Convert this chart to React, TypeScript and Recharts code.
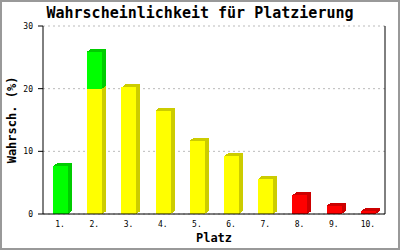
import React from "react";
import { BarChart, Bar, XAxis, YAxis, CartesianGrid } from "recharts";

// values
const places = ["1.", "2.", "3.", "4.", "5.", "6.", "7.", "8.", "9.", "10."];
const yellowVals = [0, 20, 20.2, 16.5, 11.7, 9.2, 5.6, 0, 0, 0];
const greenVals = [7.6, 5.9, 0, 0, 0, 0, 0, 0, 0, 0];
const redVals = [0, 0, 0, 0, 0, 0, 0, 3.0, 1.3, 0.4];
const yTicks = [0, 10, 20, 30];

const data = places.map((name, i) => ({
  name,
  yellow: yellowVals[i],
  green: greenVals[i],
  red: redVals[i],
}));

const mono = "'DejaVu Sans Mono', monospace";

// 3D block: front face, top face, right side
const block = (front: string, dark: string) => (props: any) => {
  const { x, y, width, height } = props;
  if (!height || height <= 0.3) return <g />;
  const dx = 4;
  const dy = 3;
  const top = `${x},${y} ${x + dx},${y - dy} ${x + width + dx},${y - dy} ${x + width},${y}`;
  const side = `${x + width},${y} ${x + width + dx},${y - dy} ${x + width + dx},${y + height - dy} ${x + width},${y + height}`;
  return (
    <g shapeRendering="crispEdges">
      <polygon points={side} fill={dark} />
      <polygon points={top} fill={dark} />
      <rect x={x} y={y} width={width} height={height} fill={front} />
    </g>
  );
};

const yLabel = (props: any) => {
  const { viewBox } = props;
  const cy = viewBox.y + viewBox.height / 2;
  return (
    <text
      x={16}
      y={cy}
      transform={`rotate(-90, 16, ${cy})`}
      textAnchor="middle"
      fontFamily={mono}
      fontWeight="bold"
      fontSize={12}
      fill="#000"
    >
      Wahrsch. (%)
    </text>
  );
};

export default function App() {
  return (
    <div
      style={{
        position: "absolute",
        left: 0,
        top: 0,
        width: 400,
        height: 250,
        background: "#fff",
      }}
    >
      <div
        style={{
          position: "absolute",
          left: 0,
          top: 4,
          width: 400,
          textAlign: "center",
          fontFamily: mono,
          fontWeight: "bold",
          fontSize: 15,
          lineHeight: "18px",
        }}
      >
        Wahrscheinlichkeit für Platzierung
      </div>
      <BarChart
        width={400}
        height={250}
        data={data}
        margin={{ top: 26, right: 15, left: 0, bottom: 0 }}
        barSize={15}
      >
        <CartesianGrid
          vertical={false}
          stroke="#bbb"
          strokeDasharray="2 3"
        />
        {/* right frame line of the plot area */}
        <CartesianGrid
          horizontal={false}
          stroke="#000"
          verticalCoordinatesGenerator={({ offset }: any) => [offset.left + offset.width]}
        />
        <XAxis
          dataKey="name"
          height={36}
          tickLine={false}
          tickSize={0}
          tickMargin={7}
          axisLine={{ stroke: "#000" }}
          tick={{ fontFamily: mono, fontSize: 8, fill: "#000" }}
          label={{
            value: "Platz",
            position: "insideBottom",
            offset: 8,
            fontFamily: mono,
            fontWeight: "bold",
            fontSize: 12,
            fill: "#000",
          }}
        />
        <YAxis
          width={43}
          domain={[0, 30]}
          ticks={yTicks}
          interval={0}
          tickSize={5}
          tickMargin={5}
          axisLine={{ stroke: "#000" }}
          tickLine={{ stroke: "#000" }}
          tick={{ fontFamily: mono, fontSize: 8, fill: "#000" }}
          label={{ content: yLabel }}
        />
        <Bar dataKey="yellow" stackId="a" isAnimationActive={false} shape={block("#ffff00", "#cccc00")} />
        <Bar dataKey="green" stackId="a" isAnimationActive={false} shape={block("#00ff00", "#00cc00")} />
        <Bar dataKey="red" stackId="a" isAnimationActive={false} shape={block("#ff0000", "#cc0000")} />
      </BarChart>
      <div
        style={{
          position: "absolute",
          left: 0,
          top: 0,
          width: 400,
          height: 250,
          boxSizing: "border-box",
          border: "2px solid #999",
          pointerEvents: "none",
        }}
      />
    </div>
  );
}
